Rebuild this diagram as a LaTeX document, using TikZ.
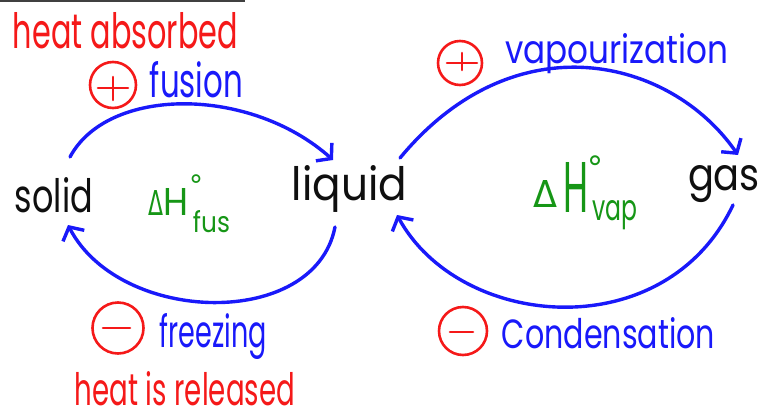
\documentclass[tikz,border=0pt]{standalone}
\usepackage{graphicx}
\usepackage{fontspec}
\setmainfont{Poppins}
\newfontfamily\symfont{DejaVu Sans}
\usetikzlibrary{arrows.meta,calc}
\definecolor{inkblue}{RGB}{25,25,250}
\definecolor{inkred}{RGB}{245,25,25}
\definecolor{inkgreen}{RGB}{22,150,22}
\definecolor{inkblack}{RGB}{15,15,15}
\newcommand\fitbox[3]{\resizebox{#1pt}{#2pt}{#3}}
\begin{document}
\begin{tikzpicture}[x=1pt,y=-1pt,
  word/.style={inner sep=0pt, outer sep=0pt, anchor=base},
  flow/.style={inkblue, line width=3.4pt, line cap=round, line join=round,
    -{Straight Barb[length=10pt,width=24pt]}},
  sign/.style={circle, draw=inkred, line width=2.6pt, inner sep=0pt},
  signbar/.style={inkred, line width=2.6pt, line cap=round}]
\useasboundingbox (0,0) rectangle (762,415);
\fill[white] (0,0) rectangle (762,415);
\draw[black!75, line width=2pt] (0,1) -- (245,1);

% heat absorbed / plus / fusion
\node[word, inkred] (absorbed) at (125.5,48) {\fitbox{225}{36}{heat absorbed}};
\node[sign, minimum size=46pt] (plusA) at (113,85) {};
\draw[signbar] ($(plusA)+(-15,3)$) -- ($(plusA)+(15,3)$);
\draw[signbar] ($(plusA)+(0,-8)$) -- ($(plusA)+(0,15)$);
\node[word, inkblue] (fusion) at (196.5,97) {\fitbox{93}{36}{fusion}};

% states
\node[word, inkblack] (solid) at (54,212) {\fitbox{78}{35}{solid}};
\node[word, inkblack] (liquid) at (349.5,200) {\fitbox{115}{35}{liquid}};
\node[word, inkblack] (gas) at (724,190) {\fitbox{72}{25}{gas}};

% Delta H fus
\node[word, inkgreen] (dfus) at (155.5,215) {\fitbox{15}{25}{\symfont Δ}};
\node[word, inkgreen] (Hfus) at (175.5,215) {\fitbox{25}{27}{H}};
\node[inkgreen, inner sep=0pt, anchor=north] (degfus) at (196,175) {\fontsize{28}{28}\selectfont\symfont °};
\node[word, inkgreen] (fus) at (211.5,232) {\fitbox{37}{22}{fus}};

% Delta H vap
\node[word, inkgreen] (dvap) at (545,207) {\fitbox{24}{27}{\symfont Δ}};
\node[word, inkgreen] (Hvap) at (575.5,212) {\fitbox{25}{50}{H}};
\node[inkgreen, inner sep=0pt, anchor=north] (degvap) at (595,156) {\fontsize{32}{32}\selectfont\symfont °};
\node[word, inkgreen] (vap) at (614.5,220) {\fitbox{45}{20}{vap}};

% plus / vapourization
\node[sign, minimum size=44pt] (plusB) at (460,63) {};
\draw[signbar] ($(plusB)+(-13,0)$) -- ($(plusB)+(17,0)$);
\draw[signbar] ($(plusB)+(2,-10)$) -- ($(plusB)+(2,7)$);
\node[word, inkblue] (vapour) at (616.5,63) {\fitbox{223}{30}{vapourization}};

% minus / freezing / released
\node[sign, minimum size=51pt] (minusA) at (118,328) {};
\draw[signbar] ($(minusA)+(-15,0)$) -- ($(minusA)+(12,0)$);
\node[word, inkblue] (freezing) at (213.5,347) {\fitbox{107}{34}{freezing}};
\node[word, inkred] (released) at (185,405) {\fitbox{220}{34}{heat is released}};

% minus / condensation
\node[sign, minimum size=48pt] (minusB) at (463,331) {};
\draw[signbar] ($(minusB)+(-13,1)$) -- ($(minusB)+(10,1)$);
\node[word, inkblue] (condens) at (608.5,348) {\fitbox{213}{31}{Condensation}};

% arrows
\draw[flow] ([shift={(16,-20)}]solid.north) .. controls +(38,-71) and +(-83,-74) .. ([shift={(-16.5,-5)}]liquid.north);
\draw[flow] ([shift={(-14.5,27)}]liquid.base) .. controls +(-20,103) and +(52,100) .. ([shift={(14,13)}]solid.base);
\draw[flow] ([shift={(50.5,-7)}]liquid.north) .. controls +(115,-139) and +(-67,-97) .. ([shift={(14,-10)}]gas.north);
\draw[flow] ([shift={(9,15)}]gas.base) .. controls +(-68,143) and +(63,115) .. ([shift={(47.5,15)}]liquid.base);
\end{tikzpicture}
\end{document}
